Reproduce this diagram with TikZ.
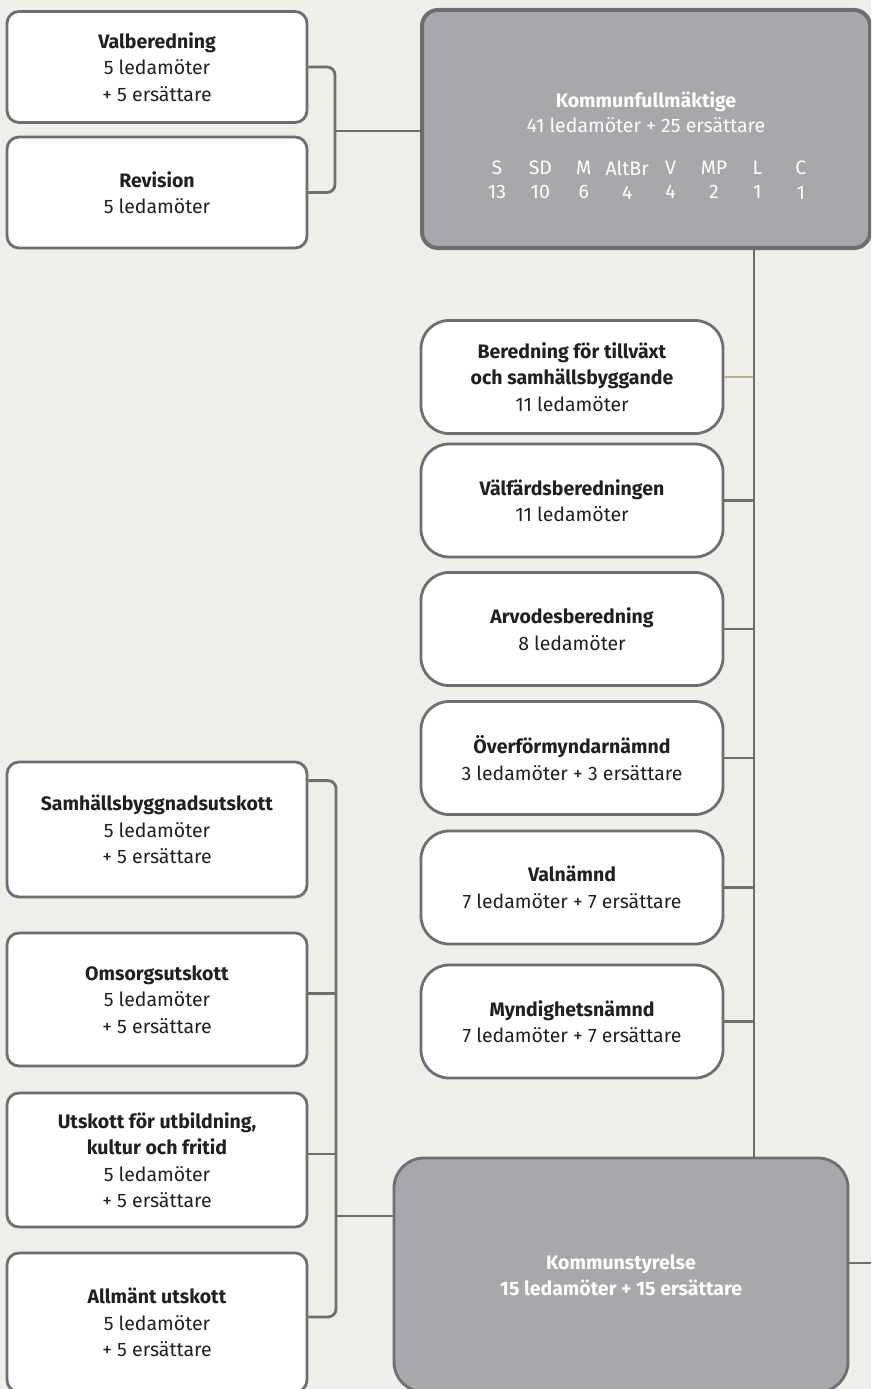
\documentclass[tikz,border=0pt]{standalone}
\usepackage{fontspec}
\setmainfont{Fira Sans}
\usetikzlibrary{calc}
\definecolor{bg}{HTML}{EFEEE8}
\definecolor{edge}{HTML}{6D6E71}
\definecolor{boxgray}{HTML}{A7A8AB}
\definecolor{ink}{HTML}{231F20}
\definecolor{tan}{HTML}{B8AD8E}
\begin{document}
\begin{tikzpicture}[x=1pt,y=-1pt]
	\tikzstyle{every node}+=[inner sep=0pt]
	\tikzstyle{smallbox}=[draw=edge, line width=2.8pt, fill=white, rounded corners=12pt, minimum width=300pt, align=center, text=ink, font=\fontsize{19.5}{26.5}\selectfont]
	\tikzstyle{roundbox}=[smallbox, rounded corners=28pt, minimum width=302pt, minimum height=113pt]
	\tikzstyle{graybox}=[draw=edge, line width=2.8pt, fill=boxgray, align=center, text=white, font=\fontsize{19.5}{26.5}\selectfont]
	\tikzstyle{whitetext}=[align=center, text=white, font=\fontsize{19.5}{24.5}\selectfont]
	\tikzstyle{conn}=[draw=edge, line width=2.8pt]
	\useasboundingbox (0,0) rectangle (871,1389);
	\fill [bg] (0,0) rectangle (871,1389);
	\clip (0,0) rectangle (871,1389);
	% top
	\node [smallbox, minimum height=111pt] (valb) at (157,67) {\textbf{Valberedning}\\5 ledamöter\\+ 5 ersättare};
	\node [smallbox, minimum height=111pt] (rev) at (157,192.5) {\textbf{Revision}\\5 ledamöter};
	\node [graybox, line width=4pt, rounded corners=16pt, minimum width=448pt, minimum height=238pt] (kf) at (646,129) {};
	\node [whitetext] (kftitle) at (646,112) {\textbf{Kommunfullmäktige}\\41 ledamöter + 25 ersättare};
	\foreach \p/\n [count=\i] in {S/13,SD/10,M/6,AltBr/4,V/4,MP/2,L/1,C/1}
		\node [whitetext] (party\i) at (453.6+43.4*\i,180) {\p\\\n};
	\coordinate (jtop) at (335,131);
	\draw [conn, rounded corners=8pt] (valb.east) -| (jtop) |- (rev.east);
	\draw [conn] (jtop) -- (jtop -| kf.west);
	% beredningar och nämnder
	\node [roundbox] (bered) at (572,377) {\textbf{Beredning för tillväxt}\\\textbf{och samhällsbyggande}\\11 ledamöter};
	\node [roundbox] (valf) at (572,500.5) {\textbf{Välfärdsberedningen}\\11 ledamöter};
	\node [roundbox] (arvo) at (572,629) {\textbf{Arvodesberedning}\\8 ledamöter};
	\node [roundbox] (overf) at (572,758) {\textbf{Överförmyndarnämnd}\\3 ledamöter + 3 ersättare};
	\node [roundbox] (valn) at (572,887.5) {\textbf{Valnämnd}\\7 ledamöter + 7 ersättare};
	\node [roundbox] (mynd) at (572,1021.5) {\textbf{Myndighetsnämnd}\\7 ledamöter + 7 ersättare};
	% styrelse och utskott
	\node [graybox, rounded corners=30pt, minimum width=454pt, minimum height=234pt] (ks) at (621,1275) {\textbf{Kommunstyrelse}\\\textbf{15 ledamöter + 15 ersättare}};
	\node [smallbox, minimum height=135pt] (sbu) at (157,829.5) {\textbf{Samhällsbyggnadsutskott}\\5 ledamöter\\+ 5 ersättare};
	\node [smallbox, minimum height=133pt] (oms) at (157,999.5) {\textbf{Omsorgsutskott}\\5 ledamöter\\+ 5 ersättare};
	\node [smallbox, minimum height=134pt] (ubk) at (157,1160) {\textbf{Utskott för utbildning,}\\\textbf{kultur och fritid}\\5 ledamöter\\+ 5 ersättare};
	\node [smallbox, minimum height=139pt] (allm) at (157,1322.5) {\textbf{Allmänt utskott}\\5 ledamöter\\+ 5 ersättare};
	% trunk
	\coordinate (trunk) at (754,248);
	\draw [conn, draw=tan] (bered.east) -- (bered.east -| trunk);
	\foreach \b in {valf,arvo,overf,valn,mynd}
		\draw [conn] (\b.east) -- (\b.east -| trunk);
	\draw [conn] (trunk) -- (trunk |- ks.north);
	\coordinate (jbot) at (336,1216);
	\draw [conn, rounded corners=8pt] ($(sbu.north east)+(0,20)$) -| (jbot) |- ($(allm.east)+(0,-5.5)$);
	\draw [conn] ($(oms.east)+(0,-6)$) -- ($(oms.east -| jbot)+(0,-6)$);
	\draw [conn] ($(ubk.east)+(0,-6)$) -- ($(ubk.east -| jbot)+(0,-6)$);
	\draw [conn] (jbot) -- (jbot -| ks.west);
	\coordinate (ksout) at (871,1263);
	\draw [conn] (ksout -| ks.east) -- (ksout);
\end{tikzpicture}
\end{document}
